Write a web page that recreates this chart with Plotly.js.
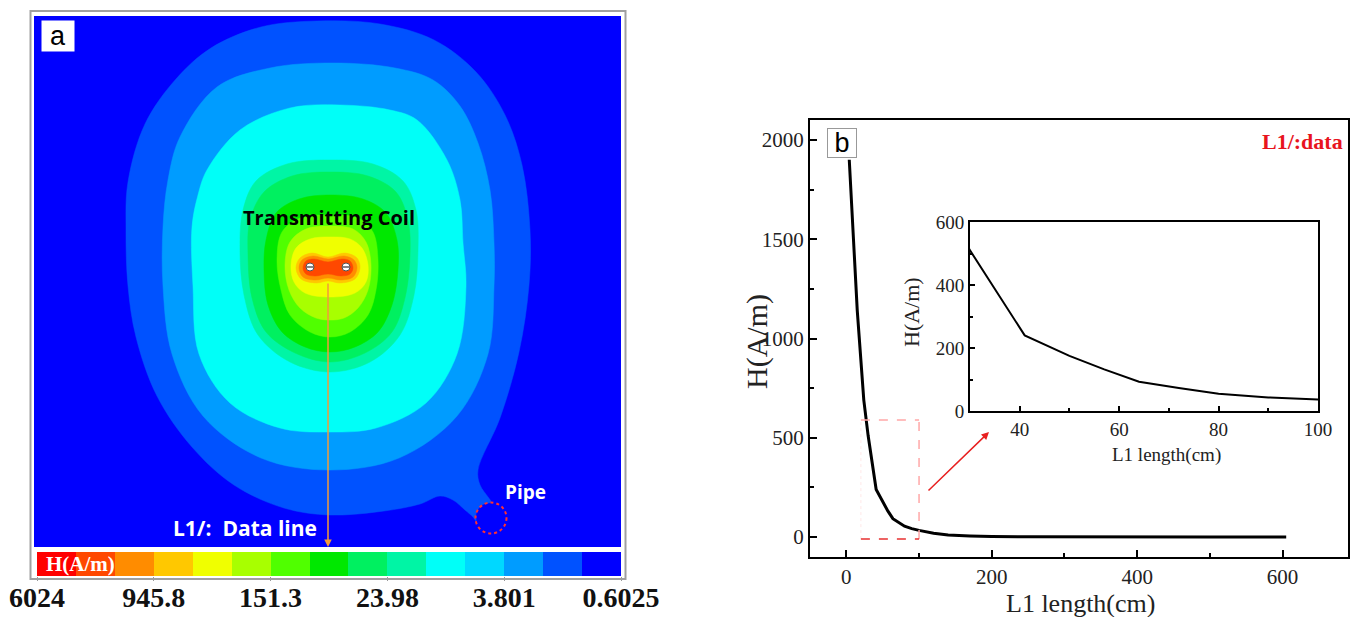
<!DOCTYPE html>
<html><head><meta charset="utf-8">
<script src="https://cdn.plot.ly/plotly-3.0.1.min.js"></script>
<style>html,body{margin:0;padding:0;background:#fff}</style>
</head><body><div id="chart" style="width:1357px;height:617px"></div>
<script>
// ---------- Panel b data: H along data line L1 ----------
const lengthCm = [4, 10, 15, 24, 30, 41, 50, 57, 64, 72, 80, 90, 100, 120, 140, 170, 200, 250, 300, 400, 500, 605];
const fieldH   = [1900, 1450, 1140, 690, 510, 240, 175, 132, 93, 73, 55, 43, 34, 20, 11, 6, 3, 2, 1, 0.5, 0.3, 0.2];
const zoomWindowX = [20, 100];
const zoomWindowY = [-10, 590];

// ---------- Panel a: colour legend ----------
const bandColors = ['#FF0000','#FF4800','#FF8C00','#FFC800','#F0FF00','#A8FF00','#50FF00','#00E800',
                    '#00F060','#00F5A5','#00FFF8','#00D8FF','#009CFF','#0052FF','#0000FF'];
const colorbarTickLabels = ['6024','945.8','151.3','23.98','3.801','0.6025'];

// ---------- Panel a: field band outlines (units relative to coil centre, y up) ----------
const ringBlue14 = [[-11,246],[52,243],[106,227],[148,195],[177,152],[194,102],[202,37],[201,-18],[191,-85],[172,-151],[150,-203],[152,-218],[160,-230],[163,-235],[156,-237],[151,-241],[148,-247],[148,-254],[145,-250],[137,-243],[125,-233],[112,-229],[92,-237],[56,-244],[2,-248],[-44,-241],[-94,-218],[-136,-180],[-171,-129],[-192,-70],[-200,-19],[-202,37],[-200,85],[-183,143],[-152,188],[-117,219],[-67,240]];
const ringBlue13 = [[5,204],[67,199],[105,187],[132,161],[150,124],[162,77],[166,24],[166,-19],[160,-87],[129,-149],[71,-191],[2,-203],[-67,-191],[-125,-149],[-156,-87],[-165,-19],[-165,40],[-160,87],[-148,130],[-111,180],[-58,199]];
const regionCyan11 = [[12,162],[62,157],[89,147],[119,107],[132,67],[135,24],[138,-19],[129,-87],[98,-136],[48,-161],[2,-165],[-48,-161],[-98,-136],[-129,-87],[-135,-19],[-136,40],[-130,72],[-121,97],[-88,137],[-38,159]];
const bandAqua10 = [[2,107],[45,103],[75,86],[88,57],[90,17],[86,-28],[72,-68],[42,-95],[2,-105],[-38,-95],[-70,-68],[-84,-28],[-88,17],[-85,57],[-72,86],[-41,103]];
const bandSpring9 = [[2,95],[40,91],[68,75],[80,47],[82,12],[77,-31],[64,-65],[37,-86],[2,-95],[-33,-86],[-62,-65],[-76,-31],[-80,12],[-78,47],[-64,75],[-36,91]];
const bandGreen8 = [[2,72],[35,68],[58,54],[69,27],[70,-3],[64,-38],[50,-65],[27,-80],[2,-85],[-23,-80],[-46,-65],[-60,-38],[-64,-3],[-62,27],[-52,54],[-29,68]];
const bandLime7 = [[2,52],[30,49],[45,35],[50,7],[48,-23],[40,-48],[22,-65],[2,-70],[-18,-65],[-38,-48],[-47,-23],[-51,7],[-46,35],[-28,49]];
const bandChart6 = [[2,41],[25,38],[38,25],[43,2],[40,-23],[30,-41],[16,-51],[2,-53],[-12,-51],[-28,-41],[-39,-23],[-43,2],[-38,25],[-22,38]];
const bandYellow5 = [[2,30],[22,28],[34,19],[40,2],[38,-15],[27,-26],[2,-30],[-23,-26],[-34,-15],[-37,2],[-32,19],[-18,28]];
const bandGold4 = [[-28,9],[-16,14],[0,10],[17,14],[29,9],[32,-1],[27,-12],[12,-16],[0,-14],[-12,-16],[-27,-12],[-32,-1]];
const bandOrange3 = [[-26,7],[-15,11],[0,8],[16,11],[26,7],[29,-1],[25,-10],[13,-13],[0,-11],[-13,-13],[-25,-10],[-29,-1]];
const coreRed2 = [[-22,6],[-14,8],[0,5],[14,8],[22,6],[25,-1],[22,-7],[13,-9],[0,-7],[-13,-9],[-22,-7],[-25,-1]];
const mapLayers = [[ringBlue14,13],[ringBlue13,12],[regionCyan11,10],[bandAqua10,9],[bandSpring9,8],[bandGreen8,7],
                   [bandLime7,6],[bandChart6,5],[bandYellow5,4],[bandGold4,3],[bandOrange3,2],[coreRed2,1]];
const coilX = [-18, 18];
const coilY = [0, 0];
const dataLineY = [-15, -280];
const pipeCenter = [163, -251];
const pipeRadius = 15.5;

// ---------- build ----------
const W = 1357, H = 617;
const px = v => v / W;
const py = v => 1 - v / H;
const serif = 'Liberation Serif, Times New Roman, serif';
const sans = 'Open Sans, Noto Sans, sans-serif';
const traces = [];

mapLayers.forEach(([pts, level]) => {
  const xs = pts.map(p => p[0]).concat([pts[0][0]]);
  const ys = pts.map(p => p[1]).concat([pts[0][1]]);
  traces.push({type:'scatter', x:xs, y:ys, xaxis:'x3', yaxis:'y3', mode:'lines', fill:'toself',
    fillcolor:bandColors[level], line:{color:bandColors[level], width:0.5, shape:'spline', smoothing:1},
    hoverinfo:'skip', showlegend:false});
});
traces.push({type:'scatter', x:coilX, y:coilY, xaxis:'x3', yaxis:'y3', mode:'markers',
  marker:{symbol:'circle', size:8, color:'#ffffff', line:{color:'#555', width:1}}, hoverinfo:'skip', showlegend:false});
traces.push({type:'scatter', x:coilX, y:coilY, xaxis:'x3', yaxis:'y3', mode:'markers',
  marker:{symbol:'line-ew', size:5, line:{color:'#333', width:1.2}}, hoverinfo:'skip', showlegend:false});

// colour legend strip
const idx = bandColors.map((c, i) => i);
traces.push({type:'heatmap', x:idx.map(i => i + 0.5), y:[0], z:[idx], xaxis:'x4', yaxis:'y4',
  zmin:0, zmax:bandColors.length - 1, showscale:false, hoverinfo:'skip',
  colorscale:bandColors.map((c, i) => [i / (bandColors.length - 1), c])});

// panel b curves
traces.push({type:'scatter', x:lengthCm, y:fieldH, xaxis:'x', yaxis:'y', mode:'lines',
  line:{color:'#000', width:3}, hoverinfo:'skip', showlegend:false});
traces.push({type:'scatter', x:lengthCm, y:fieldH, xaxis:'x2', yaxis:'y2', mode:'lines',
  line:{color:'#000', width:2}, hoverinfo:'skip', showlegend:false});

const tickFontMain = {family:serif, size:21, color:'#222'};
const tickFontInset = {family:serif, size:19, color:'#222'};
const boxAxis = {showline:true, linecolor:'#000', linewidth:2, mirror:true, ticks:'inside',
  tickcolor:'#000', tickwidth:2, ticklen:7, showgrid:false, zeroline:false, fixedrange:true};

function label(x, y, text, font, extra) {
  return Object.assign({xref:'paper', yref:'paper', x:px(x), y:py(y), xanchor:'center', yanchor:'middle',
    text:text, showarrow:false, font:font}, extra || {});
}

const layout = {
  width:W, height:H, margin:{l:0, r:0, t:0, b:0}, paper_bgcolor:'#fff', plot_bgcolor:'#fff', showlegend:false,
  xaxis:Object.assign({}, boxAxis, {domain:[px(810), px(1348)], anchor:'y', range:[-50, 690],
    tickvals:[0,200,400,600], minor:{ticks:'inside', ticklen:4, tickwidth:2, tickcolor:'#000', tick0:0, dtick:100},
    tickfont:tickFontMain}),
  yaxis:Object.assign({}, boxAxis, {domain:[py(557), py(120)], anchor:'x', range:[-100, 2100],
    tick0:0, dtick:500, minor:{ticks:'inside', ticklen:4, tickwidth:2, tickcolor:'#000', tick0:0, dtick:250},
    tickfont:tickFontMain}),
  xaxis2:Object.assign({}, boxAxis, {domain:[px(970), px(1318)], anchor:'y2', range:[30, 100],
    tickvals:[40,60,80,100], ticklen:5, minor:{ticks:'inside', ticklen:3, tickwidth:2, tickcolor:'#000', tick0:30, dtick:10},
    tickfont:tickFontInset}),
  yaxis2:Object.assign({}, boxAxis, {domain:[py(411), py(222)], anchor:'x2', range:[0, 600],
    tickvals:[0,200,400,600], ticklen:5, minor:{ticks:'inside', ticklen:3, tickwidth:2, tickcolor:'#000', tick0:0, dtick:100},
    tickfont:tickFontInset}),
  xaxis3:{domain:[px(34), px(621)], anchor:'y3', range:[-294, 293], visible:false, fixedrange:true},
  yaxis3:{domain:[py(547), py(16)], anchor:'x3', range:[-280, 251], visible:false, fixedrange:true},
  xaxis4:{domain:[px(37), px(621)], anchor:'y4', range:[0, bandColors.length], showgrid:false, zeroline:false,
    showline:false, ticks:'outside', ticklen:4, tickcolor:'#999', tickwidth:1, ticklabelstandoff:-8,
    tickvals:colorbarTickLabels.map((t, i) => i * 3), ticktext:colorbarTickLabels,
    tickfont:{family:serif, size:28, color:'#111', weight:'bold'}, fixedrange:true},
  yaxis4:{domain:[py(576), py(552)], anchor:'x4', range:[-0.5, 0.5], visible:false, fixedrange:true},
  shapes:[
    {type:'rect', xref:'x3 domain', yref:'y3 domain', x0:0, x1:1, y0:0, y1:1, fillcolor:bandColors[14], line:{width:0}, layer:'below'},
    {type:'rect', xref:'paper', yref:'paper', x0:px(30.5), x1:px(625.5), y0:py(579), y1:py(11), line:{color:'#a0a0a0', width:2}},
    {type:'circle', xref:'x3', yref:'y3', x0:pipeCenter[0]-pipeRadius, x1:pipeCenter[0]+pipeRadius,
      y0:pipeCenter[1]-pipeRadius, y1:pipeCenter[1]+pipeRadius, line:{color:'#FF3030', width:2, dash:'dot'}},
    {type:'line', xref:'x', yref:'y', x0:zoomWindowX[0], x1:zoomWindowX[1], y0:zoomWindowY[1], y1:zoomWindowY[1], line:{color:'#FFA8A8', width:1.5, dash:'dash'}},
    {type:'line', xref:'x', yref:'y', x0:zoomWindowX[1], x1:zoomWindowX[1], y0:zoomWindowY[0], y1:zoomWindowY[1], line:{color:'#FFA8A8', width:1.5, dash:'dash'}},
    {type:'line', xref:'x', yref:'y', x0:zoomWindowX[0], x1:zoomWindowX[0], y0:zoomWindowY[0], y1:zoomWindowY[1], line:{color:'#FFE8E8', width:1, dash:'dot'}},
    {type:'line', xref:'x', yref:'y', x0:zoomWindowX[0], x1:zoomWindowX[1], y0:zoomWindowY[0], y1:zoomWindowY[0], line:{color:'#E83030', width:1.5, dash:'dash'}}
  ],
  annotations:[
    label(57.7, 36, 'a', {family:'Liberation Sans, Arial, sans-serif', size:27, color:'#000'}, {bgcolor:'#fff', width:30, height:28}),
    {xref:'x3', yref:'y3', x:1, y:49, xanchor:'center', yanchor:'middle', text:'Transmitting Coil', showarrow:false,
      font:{family:sans, size:20, color:'#000', weight:'bold'}},
    {xref:'x3', yref:'y3', x:-83, y:-261, xanchor:'center', yanchor:'middle', text:'L1/:\u00a0 Data line', showarrow:false,
      font:{family:sans, size:21, color:'#fff', weight:'bold'}},
    {xref:'x3', yref:'y3', x:197, y:-225, xanchor:'center', yanchor:'middle', text:'Pipe', showarrow:false,
      font:{family:sans, size:19, color:'#fff', weight:'bold'}},
    {xref:'x3', yref:'y3', x:0, y:dataLineY[1], axref:'x3', ayref:'y3', ax:0, ay:dataLineY[0], text:'',
      showarrow:true, arrowhead:2, arrowsize:1, arrowwidth:1.5, arrowcolor:'#F39A3A', standoff:0},
    label(80, 564, 'H(A/m)', {family:serif, size:21, color:'#fff', weight:'bold'}),
    label(842, 143, 'b', {family:'Liberation Sans, Arial, sans-serif', size:27, color:'#000'},
      {bgcolor:'#fff', bordercolor:'#999', borderwidth:1, borderpad:0, width:28, height:28}),
    label(1302, 142, 'L1/:data', {family:serif, size:22, color:'#E8141E', weight:'bold'}),
    {xref:'paper', yref:'paper', x:px(989), y:py(432), ax:-62, ay:60, text:'', showarrow:true,
      arrowhead:2, arrowsize:1, arrowwidth:1.5, arrowcolor:'#E82020', standoff:0},
    label(757, 341, 'H(A/m)', {family:serif, size:30, color:'#222'}, {textangle:-90}),
    label(1080, 603, 'L1 length(cm)', {family:serif, size:26, color:'#222'}),
    label(912, 312, 'H(A/m)', {family:serif, size:22, color:'#222'}, {textangle:-90}),
    label(1166, 455, 'L1 length(cm)', {family:serif, size:19, color:'#222'})
  ]
};

Plotly.newPlot('chart', traces, layout, {displayModeBar:false, staticPlot:true});
</script></body></html>
